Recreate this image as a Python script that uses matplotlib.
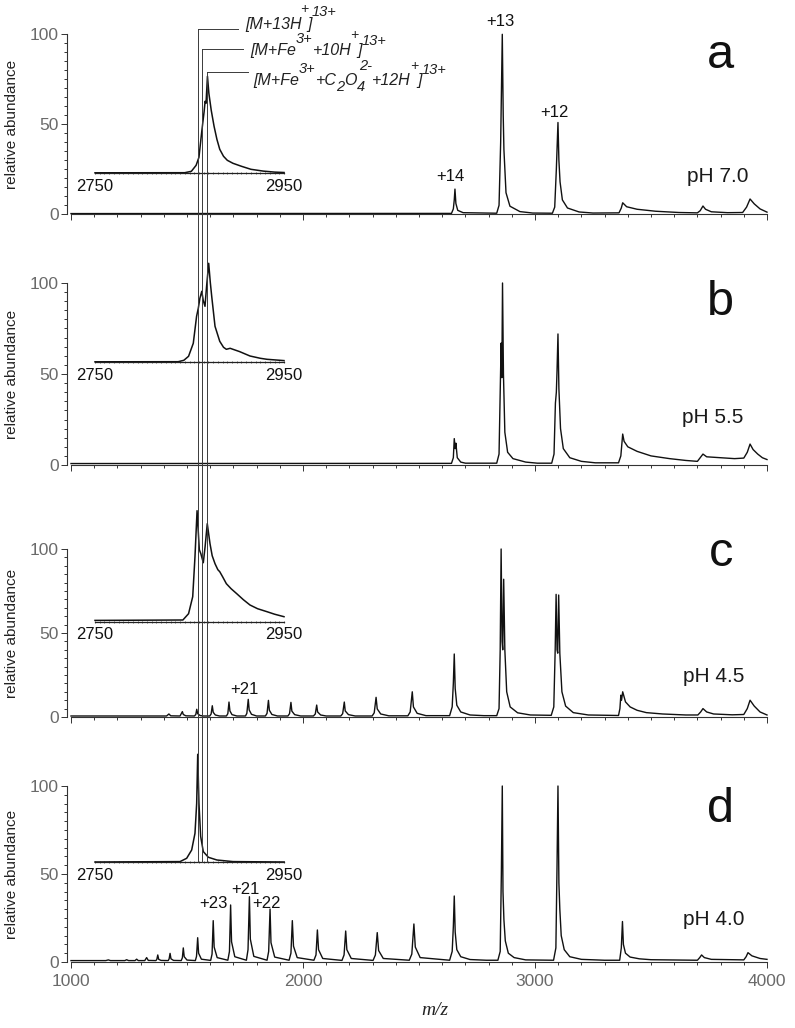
import matplotlib
matplotlib.use('Agg')
import matplotlib.pyplot as plt
from matplotlib import font_manager
from matplotlib.ticker import MultipleLocator, FixedLocator
from matplotlib.transforms import blended_transform_factory
from matplotlib.lines import Line2D

# ---------------- data ----------------
# main spectra: (m/z, relative abundance) vertices
A_MAIN = [(1000,0.4),(2640,0.5),(2648,3),(2652,8),(2655,14),(2659,6),(2667,2.2),(2690,0.9),
          (2835,0.6),(2845,5),(2852,40),(2859,100),(2863,55),(2866,36),(2875,12),(2892,4.5),(2935,1.5),(2990,0.7),
          (3075,0.6),(3085,4),(3092,25),(3099,51),(3103,30),(3108,18),(3118,8),(3140,3.5),(3190,1.3),(3250,0.7),
          (3362,0.8),(3372,3.5),(3378,6.4),(3395,4.2),(3440,2.8),(3520,1.7),(3620,1),(3700,0.8),
          (3712,2),(3724,4.6),(3735,2.8),(3760,1.4),(3830,0.9),(3895,1),(3912,4),(3927,8.5),(3945,5.8),(3970,3),(4000,1.2)]

B_MAIN = [(1000,0.8),(2640,0.9),(2648,4),(2652,14.5),(2656,9),(2659,12),(2665,4),(2680,1.6),(2700,1),
          (2835,1),(2845,6),(2850,40),(2854,67),(2857,48),(2860,100),(2864,50),(2870,18),(2882,7),(2905,3.5),(2960,1.6),(3010,1),
          (3072,1),(3082,6),(3088,34),(3092,40),(3095,52),(3099,72),(3103,42),(3110,20),(3122,9),(3150,4),(3200,2),(3260,1.2),
          (3360,1.2),(3370,5),(3378,17),(3384,13),(3400,10),(3440,7.5),(3500,5),(3580,3.5),(3650,2.5),(3700,2),
          (3712,4),(3724,6),(3740,4.5),(3800,4),(3860,3.5),(3900,3.8),(3915,7),(3927,11.5),(3940,8.5),(3960,6),(3980,4),(4000,3)]

C_MAIN = [(1000,0.6),(1412,0.6),(1422,1.8),(1430,0.7),(1470,0.6),(1480,3.2),(1484,1.5),(1495,0.7),
          (1532,0.6),(1538,1.5),(1542,4.6),(1546,2),(1556,0.9),(1570,0.6),
          (1598,0.6),(1604,1.8),(1609,6.7),(1613,2.8),(1622,1.2),(1640,0.6),
          (1670,0.6),(1676,2),(1681,8.9),(1685,3.6),(1694,1.4),(1715,0.6),
          (1752,0.6),(1758,2.2),(1764,10.5),(1768,4.2),(1778,1.6),(1800,0.6),
          (1838,0.6),(1845,2.2),(1851,9.9),(1855,4),(1866,1.5),(1890,0.6),
          (1935,0.6),(1942,2),(1948,8.7),(1952,3.5),(1964,1.4),(1990,0.6),
          (2045,0.6),(2053,1.8),(2059,7.1),(2063,3),(2076,1.2),(2100,0.6),
          (2163,0.6),(2171,2),(2178,8.9),(2182,3.6),(2196,1.4),(2225,0.6),
          (2298,0.6),(2307,2.5),(2315,11.7),(2320,4.8),(2335,1.8),(2370,0.7),
          (2452,0.7),(2462,3),(2471,15),(2476,6),(2492,2.2),(2530,0.8),
          (2632,0.8),(2643,6),(2648,20),(2652,37.5),(2656,17),(2663,7),(2680,3),(2720,1.2),(2780,0.8),
          (2835,0.8),(2845,5),(2850,40),(2854,100),(2858,45),(2861,40),(2865,82),(2870,40),(2878,15),(2893,6),(2925,2.5),(2980,1.2),
          (3070,1),(3081,6),(3087,40),(3091,73),(3095,40),(3098,38),(3102,72.6),(3107,38),(3116,15),(3132,6.5),(3165,2.6),(3230,1.2),
          (3360,0.9),(3366,5),(3370,13),(3373,10),(3378,15),(3390,9),(3410,6),(3440,4),(3480,2.6),(3550,1.8),(3650,1.2),
          (3702,1.2),(3714,3),(3724,5),(3740,3),(3770,1.8),(3850,1.3),(3900,1.5),
          (3915,5),(3927,10),(3945,6.5),(3970,3),(4000,1.2)]

D_MAIN = [(1000,0.8),(1150,0.8),(1161,1.2),(1170,0.8),(1232,0.8),(1240,1.3),(1248,0.8),(1276,0.8),(1283,1.6),(1290,0.8),
          (1318,0.8),(1326,2.5),(1333,0.9),(1366,0.8),(1370,1.5),(1374,4),(1378,1.5),(1388,0.9),
          (1419,0.8),(1423,1.8),(1427,4.9),(1431,1.8),(1442,0.9),(1475,0.8),(1480,2.4),(1484,8),(1488,3),(1500,1.1),
          (1536,0.8),(1541,3.2),(1546,13.8),(1550,5),(1562,1.6),(1602,0.9),(1608,4.5),(1613,23.5),(1617,8.5),(1630,2.5),
          (1676,1),(1683,6),(1688,32.4),(1692,11.5),(1706,3),(1756,1),(1763,7),(1769,37.1),(1773,13),(1788,3.2),
          (1845,1),(1852,6),(1858,30.1),(1862,11),(1878,2.8),(1940,1),(1948,5),(1954,23.5),(1959,9),(1975,2.5),
          (2047,1),(2056,4),(2062,18.2),(2067,7),(2085,2),(2168,0.9),(2177,4),(2184,17.6),(2189,7),(2208,2),
          (2302,0.9),(2312,4),(2320,16.7),(2326,6.5),(2346,2),(2458,1),(2469,4.5),(2478,21.6),(2484,8.5),(2505,2.5),
          (2632,1),(2643,6),(2648,20),(2652,37.5),(2656,17),(2663,7),(2680,3),(2720,1.4),(2790,1),
          (2840,1),(2850,6),(2855,50),(2859,100),(2862,40),(2866,24),(2872,12),(2885,5),(2910,2.5),(2960,1.2),
          (3080,1),(3090,8),(3095,55),(3099,100),(3103,45),(3107,30),(3113,15),(3126,7),(3150,3),(3200,1.5),(3300,1),
          (3365,1),(3372,8),(3377,23),(3381,10),(3390,5),(3410,2.8),(3450,1.8),(3500,1.3),
          (3700,1),(3710,2.5),(3718,4),(3730,2.5),(3760,1.5),(3900,1.2),(3910,3),(3918,5.3),(3935,3.5),(3970,2),(4000,1.5)]

# inset spectra (2750-2950 window)
A_INSET = [(2750,0.5),(2845,0.6),(2852,2),(2857,8),(2860,16),(2863,42),(2865.5,62),(2866.5,72),(2867.5,70),(2869,97),
           (2870.5,80),(2873,63),(2876,47),(2879,34),(2882,24),(2886,17),(2890,13),(2896,10),(2905,7),(2915,4),
           (2928,2.2),(2940,1.2),(2950,0.8)]
B_INSET = [(2750,0.5),(2838,0.6),(2844,2),(2849,6),(2854,19),(2857.5,46),(2859.3,54),(2861,64),(2863,71),(2864.5,62),
           (2866.4,56),(2868,75),(2870.3,99),(2872,80),(2873.5,66),(2877,36),(2882,21),(2886,15),(2889,13),(2893,14),
           (2896,13),(2903,10.7),(2914,6.3),(2925,4),(2932,3),(2950,1.7)]
C_INSET = [(2750,1.3),(2843,1.7),(2849,8),(2853.4,25),(2855.8,65),(2858,111),(2860.4,72),(2862,68),(2864.6,59),
           (2866.5,75),(2868.8,98),(2871.7,78),(2874,66),(2877,58),(2880,52),(2882,50),(2885,45),(2889,38),(2894,33),
           (2900,28),(2907,22),(2914,16.7),(2922,13),(2932,10),(2940,7.5),(2950,5)]
D_INSET = [(2750,0.3),(2840,0.7),(2847,4),(2852.3,12.3),(2855.8,29),(2857.6,59),(2858.7,108),(2860,59),(2861.8,26),
           (2864.6,10.7),(2870,5),(2879,2.3),(2896,0.7),(2950,0.3)]

PANELS = ['a', 'b', 'c', 'd']
PH_LABELS = ['pH 7.0', 'pH 5.5', 'pH 4.5', 'pH 4.0']
MAIN_DATA = [A_MAIN, B_MAIN, C_MAIN, D_MAIN]
INSET_DATA = [A_INSET, B_INSET, C_INSET, D_INSET]
X_TICKS = [1000, 2000, 3000, 4000]
Y_TICKS = [0, 50, 100]
INSET_TICKS = [2750, 2950]
# charge-state labels: (panel, text, m/z, abundance)
CHARGE_LABELS = [('a', '+14', 2634, 18.5), ('a', '+13', 2849, 104.6), ('a', '+12', 3083, 54.2),
                 ('c', '+21', 1746, 13.5),
                 ('d', '+23', 1612, 30.5), ('d', '+21', 1750, 38.5), ('d', '+22', 1843, 30.5)]
# marker lines for the three species (m/z in inset window)
SPECIES_MZ = [2859, 2863, 2869]

# ---------------- layout ----------------
W, H = 795, 1028
fig = plt.figure(figsize=(W / 100, H / 100), dpi=100)
names = {f.name for f in font_manager.fontManager.ttflist}
SANS = 'Liberation Sans' if 'Liberation Sans' in names else 'DejaVu Sans'
NARROW = 'Liberation Sans Narrow' if 'Liberation Sans Narrow' in names else SANS
SERIF = 'Liberation Serif' if 'Liberation Serif' in names else 'DejaVu Serif'
plt.rcParams['font.family'] = [SANS, 'DejaVu Sans']

MAIN_ZERO = {'a': 214.3, 'b': 465, 'c': 717, 'd': 962}     # px of y=0
MAIN_SPAN = {'a': 180, 'b': 182, 'c': 168, 'd': 176}       # px for 0..100
INSET_BASE = {'a': 173.3, 'b': 362.3, 'c': 621.7, 'd': 862.3}
LETTER_Y = {'a': 81, 'b': 82.4, 'c': 90, 'd': 79.7}
PH_Y = {'a': 18.1, 'b': 22.9, 'c': 21, 'd': 21}
PH_X = {'a': 3654, 'b': 3632, 'c': 3640, 'd': 3640}

SPINE = '#333333'
TICKLAB = '#6a6a6a'
insets = {}
mains = {}
for i, p in enumerate(PANELS):
    z, s = MAIN_ZERO[p], MAIN_SPAN[p]
    ax = fig.add_axes([71 / W, 1 - z / H, 696 / W, s / H])
    ax.set_facecolor('none')
    mz, val = zip(*MAIN_DATA[i])
    ax.plot(mz, val, color='#111111', lw=1.0, clip_on=False)
    ax.set_xlim(1000, 4000)
    ax.set_ylim(0, 100)
    for sp in ['top', 'right']:
        ax.spines[sp].set_visible(False)
    ax.spines['left'].set_position(('outward', 3))
    ax.spines['left'].set_bounds(0, 100)
    for sp in ['left', 'bottom']:
        ax.spines[sp].set_color(SPINE)
        ax.spines[sp].set_linewidth(0.8)
    ax.yaxis.set_major_locator(FixedLocator(Y_TICKS))
    ax.yaxis.set_minor_locator(MultipleLocator(5))
    ax.xaxis.set_major_locator(FixedLocator(X_TICKS))
    ax.xaxis.set_minor_locator(MultipleLocator(100))
    ax.tick_params(which='both', direction='out', color=SPINE, width=0.7)
    ax.tick_params(which='major', length=4, labelsize=12.5, labelcolor=TICKLAB)
    ax.tick_params(which='minor', length=2.5)
    ax.tick_params(axis='y', pad=2)
    ax.tick_params(axis='x', pad=5)
    if p != 'd':
        ax.tick_params(axis='x', labelbottom=False)
    ax.text(3800, LETTER_Y[p], p, fontsize=35, ha='center', va='baseline', color='#111111')
    ax.text(PH_X[p], PH_Y[p], PH_LABELS[i], fontsize=15, ha='left', va='baseline', color='#1a1a1a')
    fig.text(12 / W, 1 - (z - s / 2) / H, 'relative abundance', rotation=90, fontsize=11,
             ha='center', va='center', color='#222222')
    mains[p] = ax

    # inset
    b = INSET_BASE[p]
    ins = fig.add_axes([95 / W, 1 - b / H, 189 / W, 120 / H])
    ins.set_facecolor('none')
    imz, ival = zip(*INSET_DATA[i])
    ins.plot(imz, ival, color='#111111', lw=1.1, clip_on=False)
    ins.set_xlim(2750, 2950)
    ins.set_ylim(0, 120)
    for sp in ['top', 'right', 'left']:
        ins.spines[sp].set_visible(False)
    ins.spines['bottom'].set_color('#222222')
    ins.spines['bottom'].set_linewidth(0.9)
    ins.set_yticks([])
    ins.xaxis.set_major_locator(FixedLocator(INSET_TICKS))
    ins.xaxis.set_minor_locator(MultipleLocator(5))
    ins.tick_params(which='both', direction='inout', length=2.0, width=0.5, color='#333333')
    ins.tick_params(which='major', labelsize=12, labelcolor='#111111', pad=3)
    insets[p] = ins

for p, txt, x, y in CHARGE_LABELS:
    mains[p].text(x, y, txt, fontsize=12, ha='center', va='baseline', color='#111111')

fig.text(435 / W, 1 - 1015 / H, 'm/z', family=SERIF, fontstyle='italic', fontsize=14,
         ha='center', va='baseline', color='#222222')

# species marker lines with leaders
tr = blended_transform_factory(insets['a'].transData, fig.transFigure)
LEADER_TOP = [29.3, 49.3, 71.7]        # px
LEADER_END = [2901, 2907, 2912]        # m/z units of the inset window
for mzv, top, end in zip(SPECIES_MZ, LEADER_TOP, LEADER_END):
    fig.add_artist(Line2D([mzv, mzv], [1 - top / H, 1 - 862.3 / H], transform=tr,
                          color='#3a3a3a', lw=0.7))
    fig.add_artist(Line2D([mzv, end], [1 - top / H, 1 - top / H], transform=tr,
                          color='#3a3a3a', lw=0.7))

renderer = fig.canvas.get_renderer()


def rich(x_px, y_px, pieces):
    x = x_px
    for s, dy, size, dx in pieces:
        t = fig.text(x / W, 1 - (y_px - dy) / H, s, fontsize=size, fontstyle='italic', family=NARROW,
                     ha='left', va='baseline', color='#222222')
        bb = t.get_window_extent(renderer=renderer)
        x += bb.width + dx


rich(245, 29.3, [('[M+13H', 0, 11.5, -1), ('+', 16, 10, -1), (']', 0, 11.5, 0), ('13+', 13, 10.5, 0)])
rich(250, 55, [('[M+Fe', 0, 11.5, 0), ('3+', 12, 10.5, 0), ('+10H', 0, 11.5, -1), ('+', 16, 10, -1),
               (']', 0, 11.5, 0), ('13+', 10, 10.5, 0)])
rich(253, 85, [('[M+Fe', 0, 11.5, 0), ('3+', 12, 10.5, 0), ('+C', 0, 11.5, 0), ('2', -6, 10.5, 0),
               ('O', 0, 11.5, 0), ('4', -6, 10.5, -6), ('2-', 15, 10.5, 0), ('+12H', 0, 11.5, -1),
               ('+', 15, 10, -1), (']', 0, 11.5, 0), ('13+', 11, 10.5, 0)])

fig.savefig('out.png', dpi=100)
